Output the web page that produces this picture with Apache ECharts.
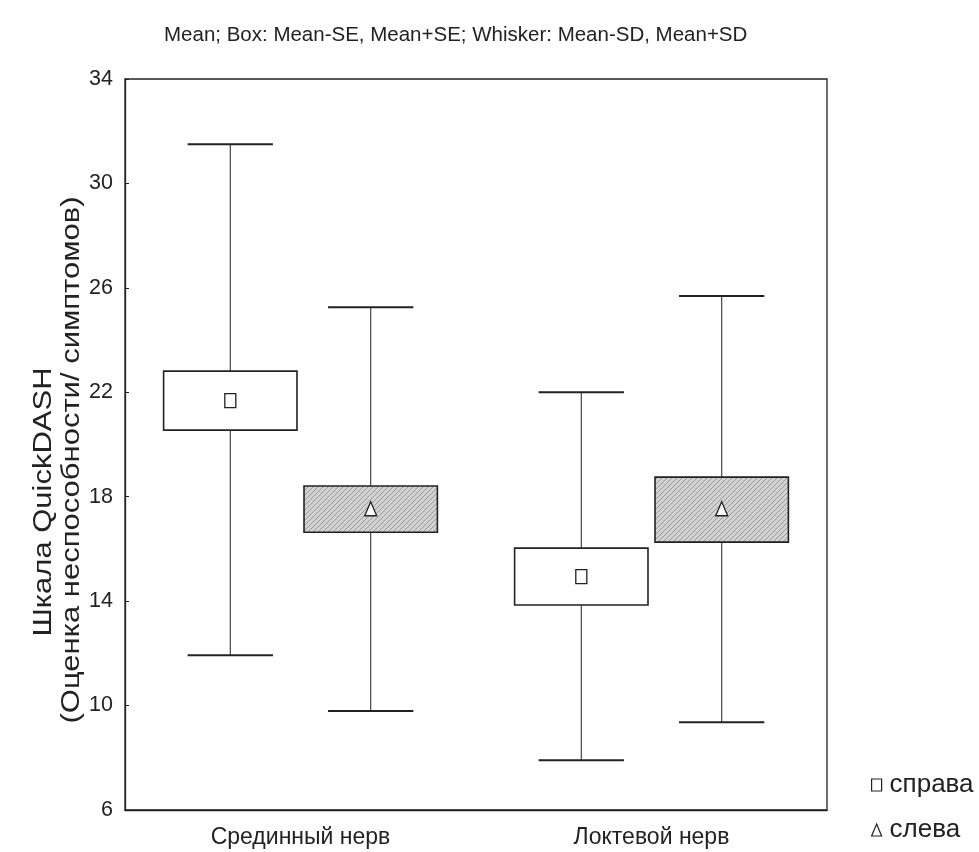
<!DOCTYPE html>
<html>
<head>
<meta charset="utf-8">
<script src="https://cdn.jsdelivr.net/npm/echarts@6/dist/echarts.min.js"></script>
<style>
html,body{margin:0;padding:0;background:#fff;}
#chart{width:979px;height:852px;}
</style>
</head>
<body>
<div id="chart"></div>
<script>
// ---- data ----
var categories = ['Срединный нерв', 'Локтевой нерв'];
var seriesNames = ['справа', 'слева'];
// справа (right side)
var rightMean   = [21.68, 14.94];
var rightSeLow  = [20.55, 13.85];
var rightSeHigh = [22.81, 16.03];
var rightSdLow  = [11.93, 7.91];
var rightSdHigh = [31.50, 22.00];
// слева (left side)
var leftMean   = [17.50, 17.50];
var leftSeLow  = [16.64, 16.26];
var leftSeHigh = [18.41, 18.75];
var leftSdLow  = [9.79, 9.36];
var leftSdHigh = [25.26, 25.69];
var yTicks = [6, 10, 14, 18, 22, 26, 30, 34];
var titleText = 'Mean; Box: Mean-SE, Mean+SE; Whisker: Mean-SD, Mean+SD';
var yName1 = 'Шкала QuickDASH';
var yName2 = '(Оценка неспособности/ симптомов)';

var FONT = "'Liberation Sans Narrow', 'Liberation Sans', Arial, sans-serif";
var INK = '#222';

function buildData(mean, seL, seH, sdL, sdH) {
  return categories.map(function (c, i) {
    return [i, sdL[i], seL[i], mean[i], seH[i], sdH[i]];
  });
}

// hatch pattern for the grey boxes
var hatch = document.createElement('canvas');
hatch.width = 5; hatch.height = 5;
(function () {
  var g = hatch.getContext('2d');
  g.fillStyle = '#d2d2d2';
  g.fillRect(0, 0, 5, 5);
  g.strokeStyle = '#9a9a9a';
  g.lineWidth = 1;
  g.beginPath();
  g.moveTo(0, 5); g.lineTo(5, 0);
  g.moveTo(-2.5, 2.5); g.lineTo(2.5, -2.5);
  g.moveTo(2.5, 7.5); g.lineTo(7.5, 2.5);
  g.stroke();
})();

function makeRender(side, marker, boxFill) {
  return function (params, api) {
    var idx = api.value(0);
    var band = api.size([1, 0])[0];
    var cx = api.coord([idx, api.value(3)])[0] + side * band * 0.2;
    var ySdL = api.coord([idx, api.value(1)])[1];
    var ySeL = api.coord([idx, api.value(2)])[1];
    var yMean = api.coord([idx, api.value(3)])[1];
    var ySeH = api.coord([idx, api.value(4)])[1];
    var ySdH = api.coord([idx, api.value(5)])[1];
    var bw = band * 0.38;
    var cw = band * 0.243;
    var lineStyle = { stroke: '#333', lineWidth: 1.1, fill: null };
    var children = [
      { type: 'line', shape: { x1: cx, y1: ySdH, x2: cx, y2: ySdL }, style: lineStyle },
      { type: 'line', shape: { x1: cx - cw / 2, y1: ySdH, x2: cx + cw / 2, y2: ySdH }, style: { stroke: INK, lineWidth: 2 } },
      { type: 'line', shape: { x1: cx - cw / 2, y1: ySdL, x2: cx + cw / 2, y2: ySdL }, style: { stroke: INK, lineWidth: 2 } },
      { type: 'rect', shape: { x: cx - bw / 2, y: ySeH, width: bw, height: ySeL - ySeH },
        style: { fill: boxFill, stroke: INK, lineWidth: 1.6 } }
    ];
    if (marker === 'square') {
      children.push({ type: 'rect', shape: { x: cx - 5.5, y: yMean - 7, width: 11, height: 14 },
        style: { fill: '#fff', stroke: INK, lineWidth: 1.3 } });
    } else {
      children.push({ type: 'polygon', shape: { points: [[cx, yMean - 8], [cx + 6, yMean + 6], [cx - 6, yMean + 6]] },
        style: { fill: '#fff', stroke: INK, lineWidth: 1.3 } });
    }
    return { type: 'group', children: children };
  };
}

var chart = echarts.init(document.getElementById('chart'), null, { renderer: 'canvas' });
chart.setOption({
  animation: false,
  backgroundColor: '#fff',
  textStyle: { fontFamily: FONT },
  title: {
    text: titleText, left: 159, top: 20,
    textStyle: { fontFamily: FONT, fontSize: 20.5, fontWeight: 'normal', color: INK }
  },
  grid: { left: 125, right: 152, top: 79, bottom: 42, show: true, borderColor: INK, borderWidth: 1.3, backgroundColor: 'transparent' },
  legend: {
    orient: 'vertical', left: 871, top: 772, padding: 0, itemWidth: 10, itemHeight: 12, itemGap: 19,
    textStyle: { fontFamily: FONT, fontSize: 26, color: INK, padding: [0, 0, 0, 3] },
    data: [
      { name: seriesNames[0], icon: 'rect', itemStyle: { color: '#fff', borderColor: INK, borderWidth: 1.2 } },
      { name: seriesNames[1], icon: 'triangle', itemStyle: { color: '#fff', borderColor: INK, borderWidth: 1.2 } }
    ],
    selectedMode: false
  },
  xAxis: {
    type: 'category', data: categories,
    axisLine: { show: true, lineStyle: { color: INK, width: 1.3 } },
    axisTick: { show: false },
    axisLabel: { fontFamily: FONT, fontSize: 23, color: INK, margin: 16 },
    splitLine: { show: false }
  },
  yAxis: {
    type: 'value', min: 6, max: 34,
    axisLine: { show: true, lineStyle: { color: INK, width: 1.3 } },
    axisTick: { show: true, inside: true, length: 4, customValues: yTicks, lineStyle: { color: INK } },
    axisLabel: { fontFamily: FONT, fontSize: 21.5, color: INK, margin: 12, customValues: yTicks },
    splitLine: { show: false }
  },
  graphic: [
    { type: 'text', x: 44, y: 502, rotation: Math.PI / 2, scaleY: 0.85,
      style: { text: yName1, font: '31px ' + FONT, fill: INK, textAlign: 'center', textVerticalAlign: 'middle' } },
    { type: 'text', x: 72, y: 460, rotation: Math.PI / 2, scaleY: 0.85,
      style: { text: yName2, font: '31px ' + FONT, fill: INK, textAlign: 'center', textVerticalAlign: 'middle' } }
  ],
  series: [
    {
      name: seriesNames[0], type: 'custom',
      itemStyle: { color: '#fff', borderColor: INK },
      encode: { x: 0, y: [1, 2, 3, 4, 5] },
      renderItem: makeRender(-1, 'square', '#fff'),
      data: buildData(rightMean, rightSeLow, rightSeHigh, rightSdLow, rightSdHigh)
    },
    {
      name: seriesNames[1], type: 'custom',
      itemStyle: { color: '#fff', borderColor: INK },
      encode: { x: 0, y: [1, 2, 3, 4, 5] },
      renderItem: makeRender(1, 'triangle', { image: hatch, repeat: 'repeat' }),
      data: buildData(leftMean, leftSeLow, leftSeHigh, leftSdLow, leftSdHigh)
    }
  ]
});
</script>
</body>
</html>
